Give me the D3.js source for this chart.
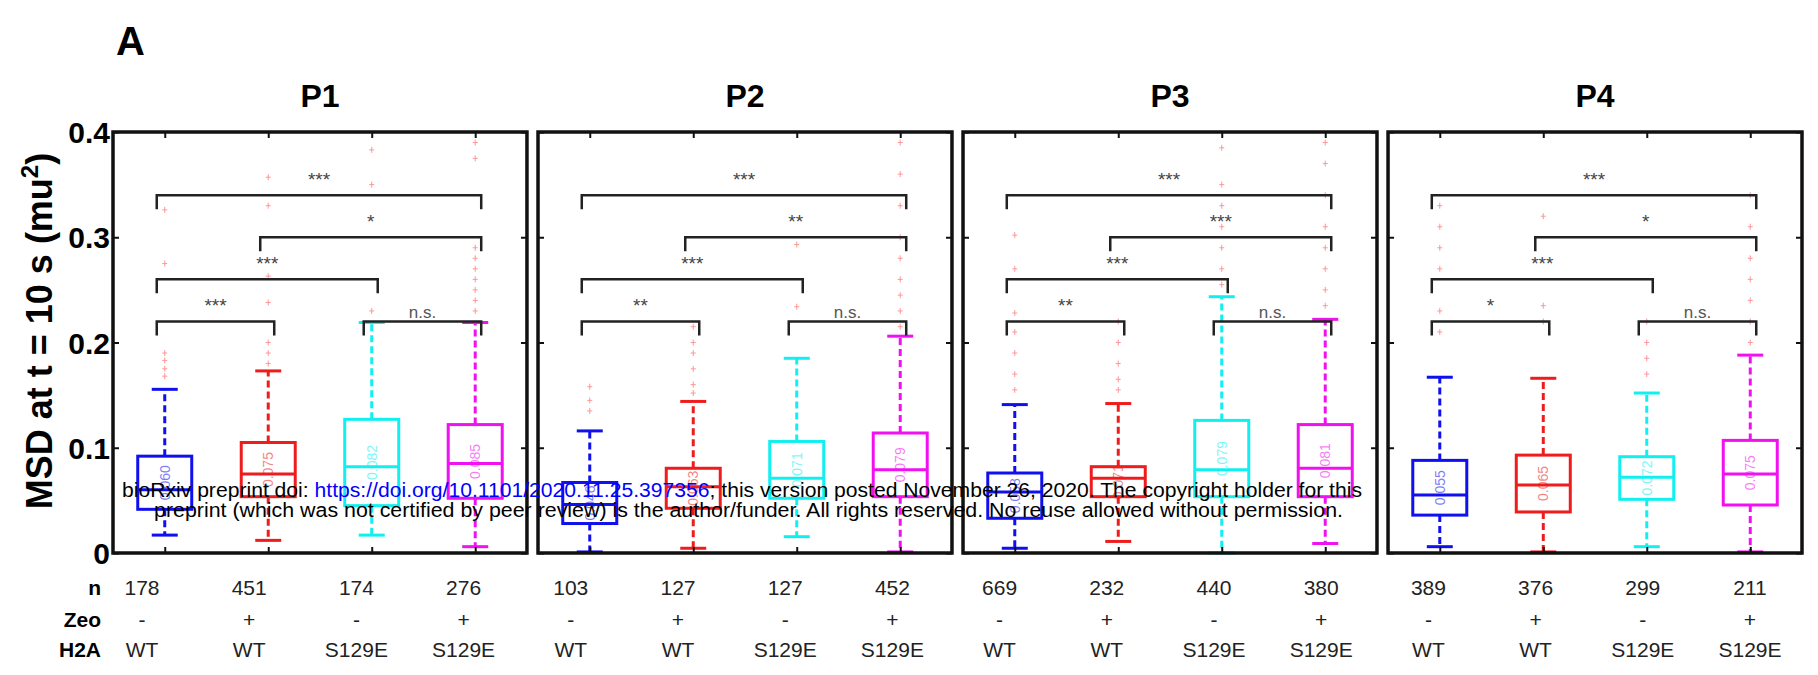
<!DOCTYPE html>
<html>
<head>
<meta charset="utf-8">
<script src="https://cdn.jsdelivr.net/npm/d3@7"></script>
<style>
  body { margin: 0; background: #fff; }
  svg { display: block; font-family: "Liberation Sans", Arial, sans-serif; }
</style>
</head>
<body>
<div id="chart"></div>
<script>
// panels and groups
const panels = ['P1', 'P2', 'P3', 'P4'];
const groups = ['WT -', 'WT +', 'S129E -', 'S129E +'];
const groupColors = ['#1010ee', '#ee1c1c', '#10f0f0', '#f010f0'];

// box statistics, 16 boxes (panel by panel, 4 groups each)
const lowWhisker  = [0.017, 0.012, 0.017, 0.006,  0.001, 0.0045, 0.0155, 0.001,  0.0045, 0.011, 0.000, 0.009,  0.006, 0.001, 0.006, 0.001];
const q1          = [0.0415, 0.0535, 0.045, 0.052,  0.028, 0.0425, 0.052, 0.0535,  0.033, 0.0535, 0.0535, 0.0535,  0.036, 0.039, 0.051, 0.0456];
const medians     = [0.060, 0.075, 0.082, 0.085,  0.046, 0.063, 0.071, 0.079,  0.058, 0.071, 0.079, 0.0805,  0.055, 0.0646, 0.072, 0.0751];
const q3          = [0.092, 0.105, 0.127, 0.122,  0.067, 0.0805, 0.106, 0.114,  0.076, 0.082, 0.126, 0.122,  0.088, 0.093, 0.0915, 0.107];
const highWhisker = [0.1555, 0.173, 0.219, 0.219,  0.116, 0.144, 0.185, 0.206,  0.141, 0.142, 0.2435, 0.222,  0.167, 0.166, 0.152, 0.188];
const outliers = [
  [0.326, 0.275, 0.19, 0.183, 0.175, 0.168],
  [0.357, 0.33, 0.263, 0.238, 0.2, 0.19, 0.18],
  [0.383, 0.35, 0.23],
  [0.39, 0.375, 0.29, 0.28, 0.27, 0.26, 0.25, 0.24, 0.23],
  [0.158, 0.145, 0.135],
  [0.215, 0.2, 0.19, 0.175, 0.16, 0.152],
  [0.293, 0.234],
  [0.39, 0.36, 0.33, 0.30, 0.28, 0.26, 0.245, 0.23, 0.215],
  [0.302, 0.27, 0.228, 0.21, 0.19, 0.17, 0.155],
  [0.22, 0.2, 0.18, 0.165, 0.155],
  [0.385, 0.35, 0.33, 0.31, 0.29, 0.27, 0.255],
  [0.39, 0.37, 0.34, 0.31, 0.29, 0.27, 0.25, 0.235],
  [0.33, 0.31, 0.29, 0.27, 0.23, 0.21],
  [0.32, 0.235, 0.22],
  [0.22, 0.2, 0.185, 0.17],
  [0.34, 0.31, 0.28, 0.26, 0.24, 0.22, 0.2]
];

// significance brackets (same pairs in every panel)
const bracketPairs = [[0, 3], [1, 3], [0, 2], [0, 1], [2, 3]];
const bracketLevels = [0.34, 0.30, 0.26, 0.22, 0.22];
const sigLabels = [
  ['***', '*', '***', '***', 'n.s.'],
  ['***', '**', '***', '**', 'n.s.'],
  ['***', '***', '***', '**', 'n.s.'],
  ['***', '*', '***', '*', 'n.s.']
];

// table under the plot
const nValues = [178, 451, 174, 276, 103, 127, 127, 452, 669, 232, 440, 380, 389, 376, 299, 211];
const zeoValues = ['-', '+', '-', '+'];
const h2aValues = ['WT', 'WT', 'S129E', 'S129E'];
const yTicks = [0, 0.1, 0.2, 0.3, 0.4];

const width = 1818, height = 675;

const svg = d3.select('#chart').append('svg')
  .attr('width', width)
  .attr('height', height);

// scales
const panelX = d3.scaleBand().domain(panels).range([113, 1802]).paddingInner(0.026).paddingOuter(0);
const groupX = d3.scalePoint().domain(d3.range(groups.length)).range([0, panelX.bandwidth()]).padding(0.5);
const y = d3.scaleLinear().domain([0, 0.4]).range([553, 132]);
const tableX = d3.scalePoint().domain(d3.range(nValues.length)).range([142, 1750]);

// panel letter
svg.append('text')
  .attr('x', 116).attr('y', 55)
  .style('font-size', '40px').style('font-weight', 'bold')
  .text('A');

// y label
svg.append('text')
  .attr('transform', 'translate(52,331) rotate(-90)')
  .attr('text-anchor', 'middle')
  .style('font-size', '36px').style('font-weight', 'bold')
  .html('MSD at t = 10 s (mu<tspan dy="-14" font-size="24">2</tspan><tspan dy="14">)</tspan>');

const boxW = 54, capW = 26;

panels.forEach((p, pi) => {
  const g = svg.append('g')
    .attr('transform', `translate(${panelX(p)},0)`);
  const pw = panelX.bandwidth();

  // title
  g.append('text')
    .attr('x', pw / 2).attr('y', 107)
    .attr('text-anchor', 'middle')
    .style('font-size', '32px').style('font-weight', 'bold')
    .text(p);

  // outliers
  groups.forEach((gr, gi) => {
    const k = pi * 4 + gi;
    const cx = groupX(gi);
    g.selectAll(null)
      .data(outliers[k])
      .enter().append('path')
      .attr('d', d => `M${cx - 2.5},${y(d)}H${cx + 2.5}M${cx},${y(d) - 3}V${y(d) + 3}`)
      .attr('stroke', '#ff3030')
      .attr('stroke-width', 1)
      .attr('opacity', 0.5);
  });

  // boxes
  groups.forEach((gr, gi) => {
    const k = pi * 4 + gi;
    const cx = groupX(gi);
    const col = groupColors[gi];
    const bg = g.append('g').attr('stroke', col).attr('fill', 'none');

    // whiskers
    bg.append('line')
      .attr('x1', cx).attr('x2', cx)
      .attr('y1', y(q3[k])).attr('y2', y(highWhisker[k]))
      .attr('stroke-width', 3).attr('stroke-dasharray', '7,4');
    bg.append('line')
      .attr('x1', cx).attr('x2', cx)
      .attr('y1', y(q1[k])).attr('y2', y(lowWhisker[k]))
      .attr('stroke-width', 3).attr('stroke-dasharray', '7,4');
    // caps
    [lowWhisker[k], highWhisker[k]].forEach(v => {
      bg.append('line')
        .attr('x1', cx - capW / 2).attr('x2', cx + capW / 2)
        .attr('y1', y(v)).attr('y2', y(v))
        .attr('stroke-width', 3);
    });
    // box
    bg.append('rect')
      .attr('x', cx - boxW / 2).attr('width', boxW)
      .attr('y', y(q3[k])).attr('height', y(q1[k]) - y(q3[k]))
      .attr('fill', '#fff')
      .attr('stroke-width', 3);
    // median
    bg.append('line')
      .attr('x1', cx - boxW / 2).attr('x2', cx + boxW / 2)
      .attr('y1', y(medians[k])).attr('y2', y(medians[k]))
      .attr('stroke-width', 3);
    // median value, rotated
    g.append('text')
      .attr('transform', `translate(${cx + 5},${(y(q1[k]) + y(q3[k])) / 2}) rotate(-90)`)
      .attr('text-anchor', 'middle')
      .attr('fill', col)
      .attr('opacity', 0.55)
      .style('font-size', '14px')
      .text(d3.format('.3f')(medians[k]));
  });

  // significance brackets
  bracketPairs.forEach((pair, bi) => {
    const x1 = groupX(pair[0]) - 8;
    const x2 = groupX(pair[1]) + 6;
    const by = y(bracketLevels[bi]);
    g.append('path')
      .attr('d', `M${x1},${by + 14}V${by}H${x2}V${by + 14}`)
      .attr('fill', 'none')
      .attr('stroke', '#222')
      .attr('stroke-width', 2.5);
    const lab = sigLabels[pi][bi];
    const ns = lab === 'n.s.';
    g.append('text')
      .attr('x', (x1 + x2) / 2)
      .attr('y', ns ? by - 3 : by - 9)
      .attr('text-anchor', 'middle')
      .attr('fill', ns ? '#555' : '#444')
      .style('font-size', ns ? '17px' : '19px')
      .text(lab);
  });

  // axes with inward ticks
  const yl = g.append('g')
    .call(d3.axisLeft(y).tickValues(yTicks).tickSizeInner(-6).tickSizeOuter(0).tickPadding(3)
      .tickFormat(d => d === 0 ? '0' : d3.format('.1f')(d)));
  yl.select('.domain').remove();
  yl.selectAll('line').attr('stroke', '#111').attr('stroke-width', 2);
  yl.selectAll('text')
    .style('font-size', '30px').style('font-weight', 'bold')
    .style('font-family', '"Liberation Sans", Arial, sans-serif')
    .attr('fill', '#000')
    .attr('dy', '0.35em');
  if (pi > 0) yl.selectAll('text').remove();

  const yr = g.append('g')
    .attr('transform', `translate(${pw},0)`)
    .call(d3.axisRight(y).tickValues(yTicks).tickSizeInner(-6).tickSizeOuter(0).tickFormat(''));
  yr.select('.domain').remove();
  yr.selectAll('line').attr('stroke', '#111').attr('stroke-width', 2);

  const xScaleLocal = d3.scalePoint().domain(d3.range(groups.length)).range([0, pw]).padding(0.5);
  const xb = g.append('g')
    .attr('transform', `translate(0,${y(0)})`)
    .call(d3.axisBottom(xScaleLocal).tickSizeInner(-6).tickSizeOuter(0).tickFormat(''));
  xb.select('.domain').remove();
  xb.selectAll('line').attr('stroke', '#111').attr('stroke-width', 2);
  const xt = g.append('g')
    .attr('transform', `translate(0,${y(0.4)})`)
    .call(d3.axisTop(xScaleLocal).tickSizeInner(-6).tickSizeOuter(0).tickFormat(''));
  xt.select('.domain').remove();
  xt.selectAll('line').attr('stroke', '#111').attr('stroke-width', 2);

  // frame
  g.append('rect')
    .attr('x', 0).attr('y', y(0.4))
    .attr('width', pw).attr('height', y(0) - y(0.4))
    .attr('fill', 'none')
    .attr('stroke', '#111')
    .attr('stroke-width', 3.5);
});

// table rows
const rowY = { n: 595, zeo: 627, h2a: 657 };
const rowLabels = [['n', rowY.n], ['Zeo', rowY.zeo], ['H2A', rowY.h2a]];
svg.selectAll('.rowlab')
  .data(rowLabels)
  .enter().append('text')
  .attr('class', 'rowlab')
  .attr('x', 101).attr('y', d => d[1])
  .attr('text-anchor', 'end')
  .style('font-size', '21px').style('font-weight', 'bold')
  .text(d => d[0]);

svg.selectAll('.nval')
  .data(nValues)
  .enter().append('text')
  .attr('class', 'nval')
  .attr('x', (d, i) => tableX(i)).attr('y', rowY.n)
  .attr('text-anchor', 'middle')
  .attr('fill', '#222')
  .style('font-size', '21px')
  .text(d => d);

svg.selectAll('.zeo')
  .data(nValues)
  .enter().append('text')
  .attr('class', 'zeo')
  .attr('x', (d, i) => tableX(i)).attr('y', rowY.zeo)
  .attr('text-anchor', 'middle')
  .attr('fill', '#222')
  .style('font-size', '21px')
  .text((d, i) => zeoValues[i % 4]);

svg.selectAll('.h2a')
  .data(nValues)
  .enter().append('text')
  .attr('class', 'h2a')
  .attr('x', (d, i) => tableX(i)).attr('y', rowY.h2a)
  .attr('text-anchor', 'middle')
  .attr('fill', '#222')
  .style('font-size', '21px')
  .text((d, i) => h2aValues[i % 4]);

// bioRxiv watermark
const wm1 = svg.append('text')
  .attr('x', 122).attr('y', 497)
  .attr('textLength', 1240).attr('lengthAdjust', 'spacingAndGlyphs')
  .style('font-size', '20px');
wm1.append('tspan').text('bioRxiv preprint doi: ');
wm1.append('tspan').attr('fill', '#0000ff').text('https://doi.org/10.1101/2020.11.25.397356');
wm1.append('tspan').text('; this version posted November 26, 2020. The copyright holder for this');

svg.append('text')
  .attr('x', 154).attr('y', 517)
  .attr('textLength', 1189).attr('lengthAdjust', 'spacingAndGlyphs')
  .style('font-size', '20px')
  .text('preprint (which was not certified by peer review) is the author/funder. All rights reserved. No reuse allowed without permission.');
</script>
</body>
</html>
